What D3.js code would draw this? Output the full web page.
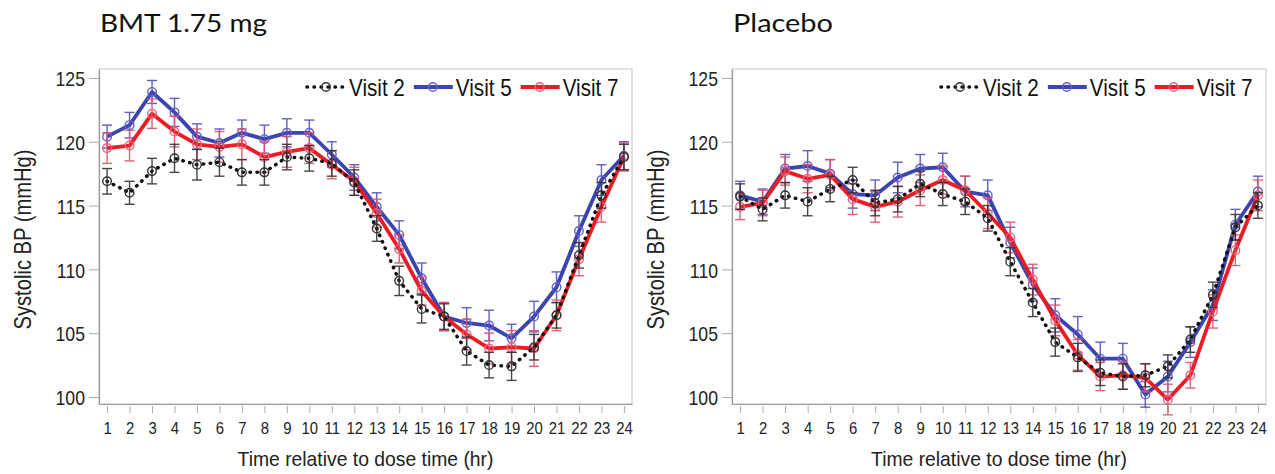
<!DOCTYPE html>
<html>
<head>
<meta charset="utf-8">
<script src="https://cdn.jsdelivr.net/npm/d3@7"></script>
<style>
  body { margin: 0; background: #fff; }
  text { font-family: "Liberation Sans", Arial, sans-serif; fill: #222; }
  .title { font-family: Lato, "Open Sans", sans-serif; }
</style>
</head>
<body>
<svg id="chart" width="1275" height="474"></svg>
<script>
// hours on the x axis
var hours = d3.range(1, 25);
var yTicks = [100, 105, 110, 115, 120, 125];
var visitNames = ["Visit 2", "Visit 5", "Visit 7"];

// BMT 1.75 mg, mean systolic BP (mmHg)
var bmtV2 = [116.9, 116.0, 117.7, 118.7, 118.2, 118.4, 117.6, 117.6, 118.8, 118.7, 118.3, 116.8, 113.2, 109.1, 106.9, 106.3, 103.6, 102.5, 102.4, 103.9, 106.4, 111.1, 115.8, 118.8];
var bmtV5 = [120.4, 121.3, 123.9, 122.3, 120.4, 119.9, 120.7, 120.2, 120.7, 120.7, 119.0, 117.2, 114.9, 112.7, 109.3, 106.3, 105.8, 105.6, 104.6, 106.3, 108.6, 113.0, 117.0, 118.9];
var bmtV7 = [119.5, 119.7, 122.2, 120.8, 119.8, 119.6, 119.8, 118.8, 119.2, 119.5, 118.2, 116.9, 114.4, 111.6, 108.3, 106.3, 104.9, 103.8, 103.9, 103.8, 106.4, 110.8, 114.9, 118.8];
// BMT standard errors
var bmtSE2 = [1.0, 0.9, 1.0, 1.1, 1.2, 1.1, 1.0, 1.0, 1.0, 1.0, 1.0, 1.0, 1.0, 1.15, 1.1, 1.0, 1.1, 1.0, 1.1, 1.0, 1.0, 1.0, 1.0, 1.0];
var bmtSE5 = [0.9, 1.0, 0.9, 1.1, 1.0, 1.1, 1.0, 1.1, 1.1, 1.0, 1.0, 1.0, 1.1, 1.1, 1.2, 1.1, 1.2, 1.2, 1.1, 1.2, 1.2, 1.2, 1.2, 1.1];
var bmtSE7 = [1.2, 1.2, 1.15, 1.2, 1.2, 1.2, 1.2, 1.2, 1.2, 1.2, 1.1, 1.1, 1.1, 1.1, 1.1, 1.1, 1.2, 1.2, 1.3, 1.4, 1.2, 1.3, 1.2, 1.1];

// Placebo, mean systolic BP (mmHg)
var plaV2 = [115.7, 114.7, 115.8, 115.3, 116.3, 117.0, 115.2, 115.5, 116.7, 115.9, 115.3, 114.0, 110.6, 107.4, 104.3, 103.1, 101.9, 101.6, 101.7, 102.4, 104.5, 108.0, 113.3, 115.0];
var plaV5 = [115.8, 115.3, 117.9, 118.1, 117.5, 115.9, 115.8, 117.2, 117.9, 118.0, 116.1, 115.8, 112.1, 108.8, 106.4, 104.9, 103.0, 103.0, 100.2, 101.6, 104.3, 107.2, 113.5, 116.1];
var plaV7 = [114.9, 115.2, 117.7, 117.1, 117.4, 115.5, 114.9, 115.3, 116.2, 117.0, 116.2, 114.4, 112.5, 109.2, 106.0, 103.3, 101.6, 101.7, 101.5, 99.8, 101.7, 106.7, 111.5, 115.8];
// Placebo standard errors
var plaSE2 = [1.0, 0.9, 1.0, 1.1, 1.0, 1.0, 1.0, 1.0, 1.0, 0.9, 1.0, 1.0, 1.1, 1.1, 1.1, 1.1, 1.0, 1.0, 0.9, 0.9, 1.0, 1.0, 1.0, 1.0];
var plaSE5 = [1.1, 1.0, 1.1, 1.2, 1.1, 1.1, 1.2, 1.2, 1.1, 1.1, 1.2, 1.2, 1.2, 1.3, 1.3, 1.4, 1.3, 1.2, 1.0, 1.2, 1.2, 1.2, 1.2, 1.2];
var plaSE7 = [1.0, 1.0, 1.1, 1.1, 1.2, 1.2, 1.2, 1.2, 1.2, 1.1, 1.1, 1.2, 1.2, 1.2, 1.2, 1.2, 1.1, 1.1, 1.1, 1.2, 1.0, 1.3, 1.2, 1.2];

// look of each visit
var styles = {
  "Visit 2": {line: "#111", mark: "#333", err: "#333", width: 3.5, dash: "0.5 6.5"},
  "Visit 5": {line: "#3a46ad", mark: "#6a5fc8", err: "#4f4fbf", width: 3.8, dash: null},
  "Visit 7": {line: "#ec1c24", mark: "#f0607a", err: "#e0506a", width: 3.8, dash: null}
};

var svg = d3.select("#chart");

// squeeze text a bit horizontally, the original fonts are narrow
function squash(sel, k) {
  sel.each(function() {
    var w = this.getComputedTextLength();
    d3.select(this).attr("textLength", w * k).attr("lengthAdjust", "spacingAndGlyphs");
  });
}

function drawPanel(p) {
  var top = 69, bottom = 404;
  var x = d3.scaleLinear().domain([0.64, 24.36]).range([p.left, p.right]);
  var y = d3.scaleLinear().domain([99.45, 125.7]).range([bottom, top]);
  var g = svg.append("g");

  // title
  g.append("text")
    .attr("class", "title")
    .attr("x", p.left + 1)
    .attr("y", 32)
    .attr("font-size", "25px")
    .attr("textLength", p.titleWidth)
    .attr("lengthAdjust", "spacingAndGlyphs")
    .style("fill", "#111")
    .text(p.title);

  // frame
  g.append("rect")
    .attr("x", p.left).attr("y", top)
    .attr("width", p.right - p.left).attr("height", bottom - top)
    .attr("fill", "none").attr("stroke", "#cfcfcf").attr("stroke-width", 1.2);

  // y axis
  var ya = g.append("g")
    .attr("transform", "translate(" + p.left + ",0)")
    .call(d3.axisLeft(y).tickValues(yTicks).tickSize(10).tickPadding(4).tickSizeOuter(0));
  ya.select(".domain").attr("stroke", "#999").attr("stroke-width", 1.2);
  ya.selectAll(".tick line").attr("stroke", "#aaa");
  ya.selectAll(".tick text").attr("font-size", "21px").attr("dy", "0.37em")
    .attr("font-family", "Liberation Sans, Arial, sans-serif").style("fill", "#222");
  squash(ya.selectAll(".tick text"), 0.84);

  // x axis
  var xa = g.append("g")
    .attr("transform", "translate(0," + bottom + ")")
    .call(d3.axisBottom(x).tickValues(hours).tickSize(9).tickPadding(10).tickSizeOuter(0));
  xa.select(".domain").attr("stroke", "#999").attr("stroke-width", 1.2);
  xa.selectAll(".tick line").attr("stroke", "#aaa").attr("y1", 2);
  xa.selectAll(".tick text").attr("font-size", "16px")
    .attr("font-family", "Liberation Sans, Arial, sans-serif").style("fill", "#222");
  squash(xa.selectAll(".tick text"), 0.93);

  // axis titles
  var xt = g.append("text")
    .attr("x", (p.left + p.right) / 2)
    .attr("y", 466)
    .attr("text-anchor", "middle")
    .attr("font-size", "21px")
    .text("Time relative to dose time (hr)");
  squash(xt, 0.92);

  var yt = g.append("text")
    .attr("transform", "translate(" + (p.left - 68) + "," + ((top + bottom) / 2 + 3) + ") rotate(-90)")
    .attr("text-anchor", "middle")
    .attr("font-size", "24px")
    .text("Systolic BP (mmHg)");
  squash(yt, 0.84);

  var line = d3.line()
    .x(function(d) { return x(d.h); })
    .y(function(d) { return y(d.v); });

  // draw order: Visit 5, Visit 7, then the dotted Visit 2 on top
  ["Visit 5", "Visit 7", "Visit 2"].forEach(function(name) {
    var st = styles[name];
    var s = p.series[name];
    var pts = hours.map(function(h, i) { return {h: h, v: s.mean[i], se: s.se[i]}; });

    g.append("path")
      .datum(pts)
      .attr("d", line)
      .attr("fill", "none")
      .attr("stroke", st.line)
      .attr("stroke-width", st.width)
      .attr("stroke-linecap", st.dash ? "round" : "butt")
      .attr("stroke-linejoin", "round")
      .attr("stroke-dasharray", st.dash);

    // error bars
    var eb = g.append("g").attr("stroke", st.err).attr("stroke-width", 1.4).attr("opacity", 0.9);
    eb.selectAll("line.v").data(pts).enter().append("line")
      .attr("x1", function(d) { return x(d.h); })
      .attr("x2", function(d) { return x(d.h); })
      .attr("y1", function(d) { return y(d.v + d.se); })
      .attr("y2", function(d) { return y(d.v - d.se); });
    eb.selectAll("line.t").data(pts).enter().append("line")
      .attr("x1", function(d) { return x(d.h) - 5; })
      .attr("x2", function(d) { return x(d.h) + 5; })
      .attr("y1", function(d) { return y(d.v + d.se); })
      .attr("y2", function(d) { return y(d.v + d.se); });
    eb.selectAll("line.b").data(pts).enter().append("line")
      .attr("x1", function(d) { return x(d.h) - 5; })
      .attr("x2", function(d) { return x(d.h) + 5; })
      .attr("y1", function(d) { return y(d.v - d.se); })
      .attr("y2", function(d) { return y(d.v - d.se); });

    // hollow markers
    g.selectAll(null).data(pts).enter().append("circle")
      .attr("cx", function(d) { return x(d.h); })
      .attr("cy", function(d) { return y(d.v); })
      .attr("r", 4.3)
      .attr("fill", "none")
      .attr("stroke", st.mark)
      .attr("stroke-width", 1.4);
  });

  // handmade legend
  var lx = p.right - 325, ly = 87;
  visitNames.forEach(function(name) {
    var st = styles[name];
    g.append("line")
      .attr("x1", lx).attr("x2", lx + 39)
      .attr("y1", ly).attr("y2", ly)
      .attr("stroke", st.line)
      .attr("stroke-width", st.width)
      .attr("stroke-linecap", st.dash ? "round" : "butt")
      .attr("stroke-dasharray", st.dash);
    g.append("circle")
      .attr("cx", lx + 19).attr("cy", ly).attr("r", 4.3)
      .attr("fill", "none").attr("stroke", st.mark).attr("stroke-width", 1.4);
    var t = g.append("text")
      .attr("x", lx + 42)
      .attr("y", ly + 8.5)
      .attr("font-size", "24px")
      .style("fill", "#111")
      .text(name);
    var w = t.node().getComputedTextLength() * 0.86;
    t.attr("textLength", w).attr("lengthAdjust", "spacingAndGlyphs");
    lx = lx + 42 + w + 9;
  });
}

drawPanel({
  left: 99, right: 632, title: "BMT 1.75 mg", titleWidth: 167,
  series: {
    "Visit 2": {mean: bmtV2, se: bmtSE2},
    "Visit 5": {mean: bmtV5, se: bmtSE5},
    "Visit 7": {mean: bmtV7, se: bmtSE7}
  }
});

drawPanel({
  left: 732, right: 1266, title: "Placebo", titleWidth: 100,
  series: {
    "Visit 2": {mean: plaV2, se: plaSE2},
    "Visit 5": {mean: plaV5, se: plaSE5},
    "Visit 7": {mean: plaV7, se: plaSE7}
  }
});
</script>
</body>
</html>
